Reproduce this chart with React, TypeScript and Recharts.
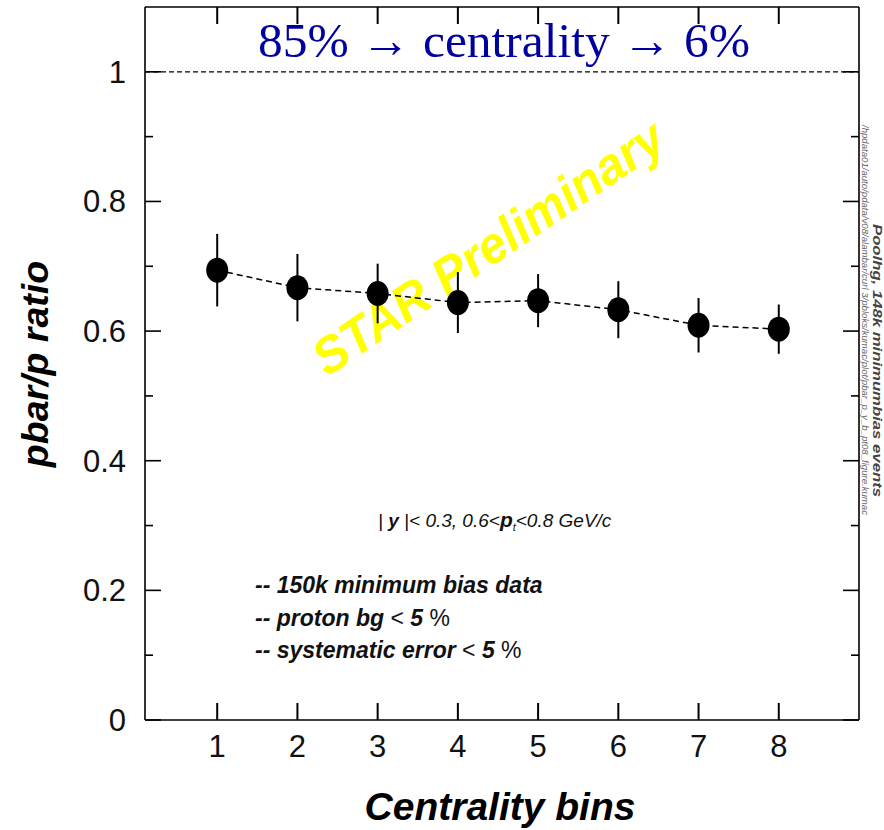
import React from "react";
import { ComposedChart, Line, XAxis, YAxis, ErrorBar, ReferenceLine } from "recharts";

const bins = [1, 2, 3, 4, 5, 6, 7, 8];
const ratio = [0.694, 0.667, 0.658, 0.644, 0.647, 0.633, 0.609, 0.603];
const ratioErr = [0.056, 0.052, 0.046, 0.047, 0.041, 0.044, 0.042, 0.038];
const xTicks = [1, 2, 3, 4, 5, 6, 7, 8];
const yTicks = [0, 0.1, 0.2, 0.3, 0.4, 0.5, 0.6, 0.7, 0.8, 0.9, 1.0];

const data = bins.map((b, i) => ({ bin: b, ratio: ratio[i], err: ratioErr[i] }));

const SANS = '"Liberation Sans", Arial, sans-serif';
const SERIF = '"Liberation Serif", "Times New Roman", serif';

const isMajor = (v: number) => Math.round(v * 10) % 2 === 0;
const fmtY = (v: number) => (v === 0 ? "0" : v === 1 ? "1" : v.toFixed(1));

function LeftTick(props: any) {
  const { x, y, payload } = props;
  const major = isMajor(payload.value);
  return (
    <g>
      <line x1={x} x2={x + (major ? 16 : 8)} y1={y} y2={y} stroke="#000" strokeWidth={1.6} />
      {major && (
        <text x={x - 19} y={y + 11} textAnchor="end" fontSize={31} fontFamily={SANS} fill="#111">
          {fmtY(payload.value)}
        </text>
      )}
    </g>
  );
}

function RightTick(props: any) {
  const { x, y, payload } = props;
  const major = isMajor(payload.value);
  return (
    <g>
      <line x1={x} x2={x - (major ? 16 : 8)} y1={y} y2={y} stroke="#000" strokeWidth={1.6} />
    </g>
  );
}

function BottomTick(props: any) {
  const { x, y, payload } = props;
  return (
    <g>
      <line x1={x} x2={x} y1={y} y2={y - 17} stroke="#000" strokeWidth={2} />
      <text x={x} y={y + 37} textAnchor="middle" fontSize={31} fontFamily={SANS} fill="#111">
        {payload.value}
      </text>
    </g>
  );
}

function TopTick(props: any) {
  const { x, y } = props;
  return (
    <g>
      <line x1={x} x2={x} y1={y} y2={y + 17} stroke="#000" strokeWidth={2} />
    </g>
  );
}

function Dot(props: any) {
  const { cx, cy } = props;
  return <ellipse cx={cx} cy={cy} rx={11} ry={12.5} fill="#000" />;
}

export default function App() {
  return (
    <div style={{ position: "absolute", left: 0, top: 0, width: 884, height: 830, background: "#fff" }}>
      <svg width={884} height={830} style={{ position: "absolute", left: 0, top: 0 }}>
        <text
          transform="translate(498,262) rotate(-34)"
          textAnchor="middle"
          fontSize={51}
          fontWeight="bold"
          fontStyle="italic"
          fontFamily={SANS}
          fill="#ffff00"
          textLength={412}
          lengthAdjust="spacingAndGlyphs"
        >
          STAR Preliminary
        </text>
        <text x={504} y={57} textAnchor="middle" fontSize={49.5} fontFamily={SERIF} fill="#0000a0">
          85% → centrality → 6%
        </text>
        <text
          transform="translate(48,364) rotate(-90)"
          textAnchor="middle"
          fontSize={37.5}
          fontWeight="bold"
          fontStyle="italic"
          fontFamily={SANS}
          fill="#000"
        >
          pbar/p ratio
        </text>
        <text x={500} y={820} textAnchor="middle" fontSize={39} fontWeight="bold" fontStyle="italic" fontFamily={SANS} fill="#000">
          Centrality bins
        </text>
        <text x={378} y={527} fontSize={19} fontStyle="italic" fontFamily={SANS} fill="#111">
          {"| "}
          <tspan fontWeight="bold">y</tspan>
          {" |< 0.3, 0.6<"}
          <tspan fontWeight="bold" fontSize={21}>p</tspan>
          <tspan fontSize={11} dy={4}>t</tspan>
          <tspan dy={-4}>{"<0.8 GeV/c"}</tspan>
        </text>
        <g fontFamily={SANS} fontStyle="italic" fill="#111" fontSize={23}>
          <text x={255} y={593} fontWeight="bold">-- 150k minimum bias data</text>
          <text x={255} y={626}>
            <tspan fontWeight="bold">-- proton bg </tspan>
            <tspan fontStyle="normal">{"<"}</tspan>
            <tspan fontWeight="bold"> 5 </tspan>
            <tspan fontStyle="normal">%</tspan>
          </text>
          <text x={255} y={658}>
            <tspan fontWeight="bold">-- systematic error </tspan>
            <tspan fontStyle="normal">{"<"}</tspan>
            <tspan fontWeight="bold"> 5 </tspan>
            <tspan fontStyle="normal">%</tspan>
          </text>
        </g>
        <text
          transform="translate(873,224) rotate(90)"
          fontSize={12.5}
          fontWeight="bold"
          fontStyle="italic"
          fontFamily={SANS}
          fill="#444"
          textLength={273}
          lengthAdjust="spacingAndGlyphs"
        >
          Poolhg, 148k minimumbias events
        </text>
        <text
          transform="translate(862,125) rotate(90)"
          fontSize={8.5}
          fontStyle="italic"
          fontFamily={SANS}
          fill="#666"
          textLength={390}
          lengthAdjust="spacingAndGlyphs"
        >
          /hpdata01/auto/pdata/v08/alambar/curl 3/pbloks/kumac/plot/pbar_p_y_b_pt08_figure.kumac
        </text>
      </svg>
      <div style={{ position: "absolute", left: 0, top: 0 }}>
        <ComposedChart width={884} height={830} data={data} margin={{ top: 6, right: 24, bottom: 0, left: 0 }}>
          <XAxis
            dataKey="bin"
            type="number"
            domain={[0.1, 9]}
            allowDataOverflow
            ticks={xTicks}
            interval={0}
            height={110}
            tickSize={0}
            tickMargin={0}
            tickLine={false}
            axisLine={{ stroke: "#000", strokeWidth: 1.6 }}
            tick={<BottomTick />}
          />
          <XAxis
            xAxisId="top"
            dataKey="bin"
            orientation="top"
            type="number"
            domain={[0.1, 9]}
            allowDataOverflow
            ticks={xTicks}
            interval={0}
            height={1}
            tickSize={0}
            tickMargin={0}
            tickLine={false}
            axisLine={{ stroke: "#000", strokeWidth: 1.6 }}
            tick={<TopTick />}
          />
          <YAxis
            type="number"
            domain={[0, 1.1]}
            allowDataOverflow
            ticks={yTicks}
            interval={0}
            width={145}
            tickSize={0}
            tickMargin={0}
            tickLine={false}
            axisLine={{ stroke: "#000", strokeWidth: 1.6 }}
            tick={<LeftTick />}
          />
          <YAxis
            yAxisId="right"
            orientation="right"
            type="number"
            domain={[0, 1.1]}
            allowDataOverflow
            ticks={yTicks}
            interval={0}
            width={1}
            tickSize={0}
            tickMargin={0}
            tickLine={false}
            axisLine={{ stroke: "#000", strokeWidth: 1.6 }}
            tick={<RightTick />}
          />
          <ReferenceLine y={1} stroke="#000" strokeWidth={1.2} strokeDasharray="5 3" />
          <Line
            xAxisId="top"
            yAxisId="right"
            type="linear"
            dataKey="ratio"
            stroke="none"
            dot={false}
            activeDot={false}
            legendType="none"
            isAnimationActive={false}
          />
          <Line
            type="linear"
            dataKey="ratio"
            stroke="#000"
            strokeWidth={1.5}
            strokeDasharray="6 4"
            dot={<Dot />}
            isAnimationActive={false}
          >
            <ErrorBar dataKey="err" direction="y" width={0} stroke="#000" strokeWidth={2} isAnimationActive={false} />
          </Line>
        </ComposedChart>
      </div>
    </div>
  );
}
